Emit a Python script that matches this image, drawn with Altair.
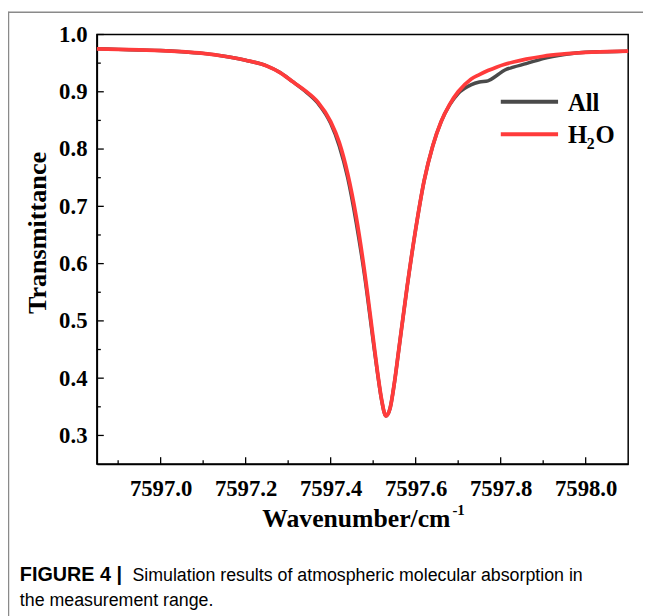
import altair as alt
import pandas as pd

# ---- data ----
wavenumber = [7596.85, 7596.90, 7596.95, 7597.00, 7597.05, 7597.10, 7597.15, 7597.20,
              7597.25, 7597.28, 7597.31, 7597.34, 7597.37, 7597.40, 7597.42, 7597.44,
              7597.46, 7597.48, 7597.50, 7597.51, 7597.52, 7597.53, 7597.54, 7597.55,
              7597.56, 7597.58, 7597.60, 7597.62, 7597.64, 7597.66, 7597.68, 7597.70,
              7597.73, 7597.75, 7597.77, 7597.79, 7597.81, 7597.83, 7597.86, 7597.90,
              7597.95, 7598.00, 7598.05, 7598.10]
t_h2o = [0.975, 0.974, 0.973, 0.972, 0.970, 0.967, 0.962, 0.955,
         0.945, 0.934, 0.918, 0.902, 0.882, 0.848, 0.812, 0.757,
         0.682, 0.585, 0.470, 0.412, 0.362, 0.334, 0.348, 0.392,
         0.448, 0.560, 0.660, 0.745, 0.805, 0.848, 0.878, 0.900,
         0.922, 0.930, 0.937, 0.943, 0.948, 0.952, 0.957, 0.962,
         0.966, 0.969, 0.970, 0.971]
t_all = [0.975, 0.974, 0.973, 0.972, 0.970, 0.967, 0.962, 0.955,
         0.945, 0.934, 0.918, 0.901, 0.880, 0.845, 0.806, 0.750,
         0.672, 0.578, 0.465, 0.410, 0.361, 0.334, 0.348, 0.392,
         0.448, 0.560, 0.660, 0.745, 0.805, 0.848, 0.877, 0.897,
         0.912, 0.917, 0.919, 0.928, 0.938, 0.943, 0.949, 0.958,
         0.965, 0.969, 0.970, 0.971]

x_major = [7597.0, 7597.2, 7597.4, 7597.6, 7597.8, 7598.0]
x_minor = [7596.9, 7597.1, 7597.3, 7597.5, 7597.7, 7597.9]
y_major = [0.3, 0.4, 0.5, 0.6, 0.7, 0.8, 0.9, 1.0]
y_minor = [0.35, 0.45, 0.55, 0.65, 0.75, 0.85, 0.95]

series_names = ["All", "H2O"]
series_colors = ["#4a4a4a", "#ff3b3b"]

x_title = "Wavenumber/cm"
x_title_sup = "-1"
y_title = "Transmittance"
caption_bold = "FIGURE 4 |"
caption_line1 = "Simulation results of atmospheric molecular absorption in"
caption_line2 = "the measurement range."

# ---- layout ----
W, H = 538, 435
XDOM = [7596.85, 7598.10]
YDOM = [0.25, 1.0]
SERIF = "Liberation Serif"
SANS = "Liberation Sans"

xs = alt.Scale(domain=XDOM, nice=False, zero=False)
ys = alt.Scale(domain=YDOM, nice=False, zero=False)
xa = alt.Axis(values=x_major, format=".1f", ticks=False, grid=False, title=None,
              labelFont=SERIF, labelFontWeight="bold", labelFontSize=23,
              labelColor="black", labelPadding=14, domainColor="black",
              domainWidth=1.5, labelFlush=False)
ya = alt.Axis(values=y_major, format=".1f", ticks=False, grid=False, title=None,
              labelFont=SERIF, labelFontWeight="bold", labelFontSize=23,
              labelColor="black", labelPadding=10, domainColor="black",
              domainWidth=1.5, labelFlush=False)

df_all = pd.DataFrame({"x": wavenumber, "t": t_all})
df_h2o = pd.DataFrame({"x": wavenumber, "t": t_h2o})

line_all = alt.Chart(df_all).mark_line(
    color=series_colors[0], strokeWidth=3.5, interpolate="monotone"
).encode(
    x=alt.X("x:Q", scale=xs, axis=xa),
    y=alt.Y("t:Q", scale=ys, axis=ya),
)
line_h2o = alt.Chart(df_h2o).mark_line(
    color=series_colors[1], strokeWidth=3.8, interpolate="monotone"
).encode(
    x=alt.X("x:Q", scale=xs, axis=xa),
    y=alt.Y("t:Q", scale=ys, axis=ya),
)

# inward ticks
xmaj = alt.Chart(pd.DataFrame({"x": x_major})).mark_rule(color="black", strokeWidth=1.3).encode(
    x=alt.X("x:Q", scale=xs, axis=xa), y=alt.value(H), y2=alt.value(H - 7))
xmin = alt.Chart(pd.DataFrame({"x": x_minor})).mark_rule(color="black", strokeWidth=1.3).encode(
    x=alt.X("x:Q", scale=xs, axis=xa), y=alt.value(H), y2=alt.value(H - 4))
ymaj = alt.Chart(pd.DataFrame({"t": y_major})).mark_rule(color="black", strokeWidth=1.3).encode(
    y=alt.Y("t:Q", scale=ys, axis=ya), x=alt.value(0), x2=alt.value(7))
ymin = alt.Chart(pd.DataFrame({"t": y_minor})).mark_rule(color="black", strokeWidth=1.3).encode(
    y=alt.Y("t:Q", scale=ys, axis=ya), x=alt.value(0), x2=alt.value(4))


def txt(s, x, y, size, font=SERIF, weight="bold", align="left", baseline="alphabetic", angle=0, color="black"):
    kw = dict(font=font, fontSize=size, fontWeight=weight, align=align, baseline=baseline, color=color)
    if angle:
        kw["angle"] = angle
    return alt.Chart(pd.DataFrame({"s": [s]})).mark_text(**kw).encode(
        x=alt.value(x), y=alt.value(y), text="s:N")


# legend (manual)
leg_lines = alt.Chart(pd.DataFrame({"n": series_names, "c": series_colors,
                                    "yy": [68, 101]})).mark_rule(strokeWidth=4).encode(
    x=alt.value(409), x2=alt.value(467), y=alt.Y("yy:Q", scale=None, axis=None),
    color=alt.Color("c:N", scale=None))
leg_all = txt("All", 477, 77, 25)
leg_h = txt("H", 477, 110, 25)
leg_2 = txt("2", 496, 116, 16)
leg_o = txt("O", 505, 110, 25)

xt = txt(x_title, 358, 499, 26, align="right")
xts = txt(x_title_sup, 360, 487, 15)
yt = txt(y_title, -60, 201, 26.5, align="center", baseline="middle", angle=270)

cap_b = txt(caption_bold, -78, 553, 20, font=SANS, weight="bold")
cap_1 = txt(caption_line1, 36, 553, 18, font=SANS, weight="normal")
cap_2 = txt(caption_line2, -78, 579, 18, font=SANS, weight="normal")

frame_top = alt.Chart(pd.DataFrame({"a": [0]})).mark_rule(color="#8a8a8a", strokeWidth=1.5).encode(
    x=alt.value(-90), x2=alt.value(560), y=alt.value(-22.5))
frame_left = alt.Chart(pd.DataFrame({"a": [0]})).mark_rule(color="#8a8a8a", strokeWidth=1.5).encode(
    x=alt.value(-89.5), y=alt.value(-23), y2=alt.value(590))

chart = alt.layer(
    line_all, line_h2o, xmaj, xmin, ymaj, ymin, leg_lines, leg_all, leg_h, leg_2, leg_o,
    xt, xts, yt, cap_b, cap_1, cap_2, frame_top, frame_left
).properties(
    width=W, height=H,
    background="white",
    autosize=alt.AutoSizeParams(type="none"),
    padding={"left": 90, "top": 23, "right": 15, "bottom": 150},
).configure_view(
    stroke="black", strokeWidth=1.5
)

chart.save("out.html", embed_options={"renderer": "svg", "actions": False})
